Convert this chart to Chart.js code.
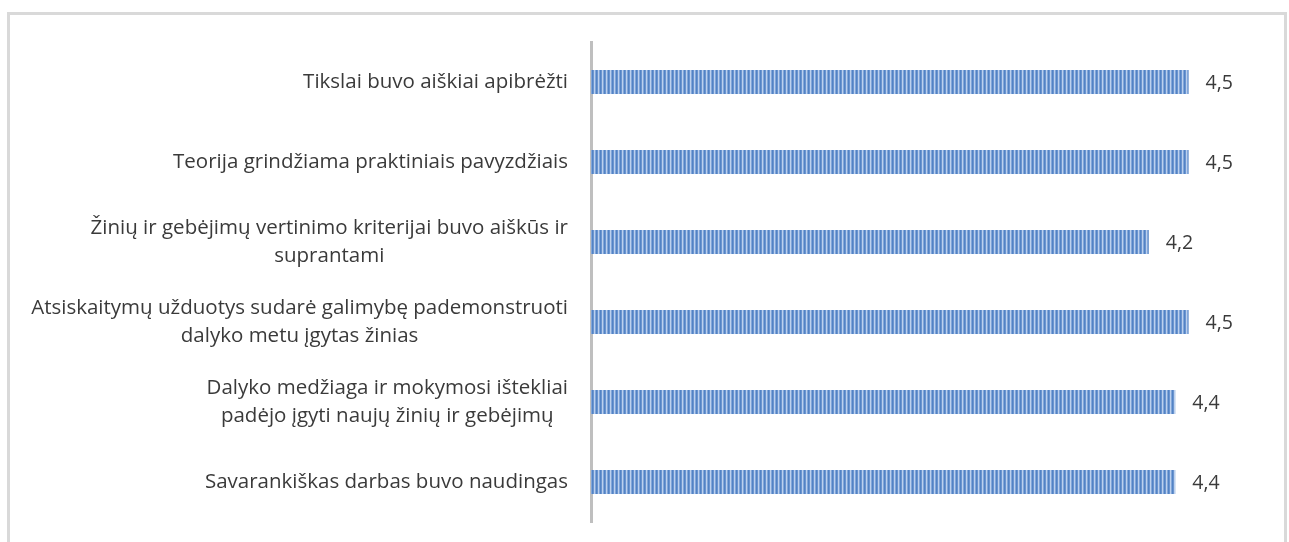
<!DOCTYPE html>
<html><head><meta charset="utf-8">
<script src="https://cdn.jsdelivr.net/npm/chart.js@4"></script>
<style>
html,body{margin:0;padding:0;background:#fff;overflow:hidden;}
#wrap{position:relative;width:1289px;height:542px;}
#frame{position:absolute;left:7px;top:12px;width:1280px;height:600px;border:3px solid #d9d9d9;box-sizing:border-box;}
canvas{position:absolute;left:0;top:0;}
</style></head><body>
<div id="wrap"><div id="frame"></div><canvas id="c" width="1289" height="542"></canvas></div>
<script>
const categories = [
  ['Tikslai buvo aiškiai apibrėžti'],
  ['Teorija grindžiama praktiniais pavyzdžiais'],
  ['Žinių ir gebėjimų vertinimo kriterijai buvo aiškūs ir', 'suprantami'],
  ['Atsiskaitymų užduotys sudarė galimybę pademonstruoti', 'dalyko metu įgytas žinias'],
  ['Dalyko medžiaga ir mokymosi ištekliai', 'padėjo įgyti naujų žinių ir gebėjimų'],
  ['Savarankiškas darbas buvo naudingas']
];
const values = [4.5, 4.5, 4.2, 4.5, 4.4, 4.4];

const FONT = '"Open Sans", sans-serif';
const TEXT = '#3a3a3a';

function stripePattern(ctx) {
  const p = document.createElement('canvas');
  p.width = 4; p.height = 1;
  const pc = p.getContext('2d');
  const cols = ['#5283c4', '#6c95d0', '#bcd1ed', '#82a6da'];
  cols.forEach((c, i) => { pc.fillStyle = c; pc.fillRect(i, 0, 1, 1); });
  return ctx.createPattern(p, 'repeat');
}

const labelPlugin = {
  id: 'labels',
  afterDatasetsDraw(chart) {
    const ctx = chart.ctx;
    const meta = chart.getDatasetMeta(0);
    ctx.save();
    ctx.fillStyle = TEXT;
    ctx.textBaseline = 'middle';
    meta.data.forEach((bar, i) => {
      ctx.font = '19.5px ' + FONT;
      ctx.textAlign = 'left';
      ctx.fillText(String(values[i]).replace('.', ','), bar.x + 17, bar.y + 1);
      ctx.font = '20.5px ' + FONT;
      const lines = categories[i];
      const w = Math.max(...lines.map(l => ctx.measureText(l).width));
      const cx = 568 - w / 2;
      const lh = 28;
      ctx.textAlign = 'center';
      lines.forEach((l, j) => {
        ctx.fillText(l, cx, bar.y + (j - (lines.length - 1) / 2) * lh);
      });
    });
    ctx.restore();
  }
};

new Chart(document.getElementById('c'), {
  type: 'bar',
  data: {
    labels: categories,
    datasets: [{
      data: values,
      backgroundColor: (c) => stripePattern(c.chart.ctx),
      borderWidth: 0,
      barPercentage: 0.6,
      categoryPercentage: 0.5
    }]
  },
  options: {
    indexAxis: 'y',
    responsive: false,
    animation: false,
    layout: { padding: { left: 0, right: 34, top: 42, bottom: 20 } },
    plugins: { legend: { display: false }, tooltip: { enabled: false } },
    scales: {
      x: { display: false, min: 0, max: 5 },
      y: {
        grid: { display: false, drawTicks: false },
        border: { display: true, color: '#bfbfbf', width: 3 },
        ticks: { display: false },
        afterFit(scale) { scale.width = 591; }
      }
    }
  },
  plugins: [labelPlugin]
});
</script>
</body></html>
